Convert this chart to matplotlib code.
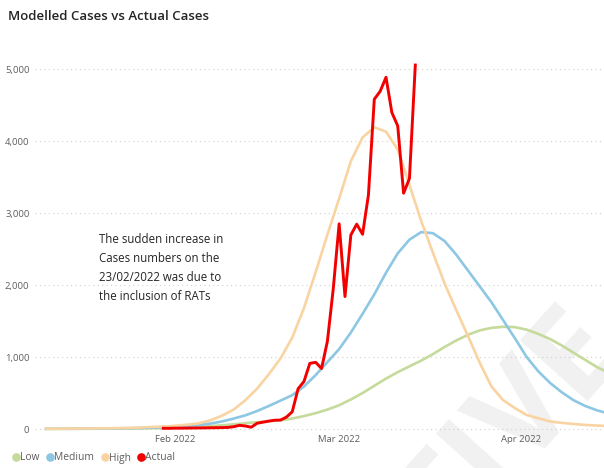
import matplotlib
matplotlib.use("Agg")
import matplotlib.pyplot as plt
from matplotlib.lines import Line2D
import pandas as pd

plt.rcParams['font.family'] = ['Open Sans', 'DejaVu Sans']

# Modelled scenarios, every second day from 10 Jan 2022
model_dates = pd.date_range('2022-01-10', '2022-04-16', freq='2D')
low = [2, 2, 3, 3, 4, 5, 6, 7, 9, 11, 14, 18, 23, 30, 40, 52, 65, 80, 95, 108,
       120, 145, 180, 220, 270, 330, 410, 500, 600, 700, 790, 870, 950, 1040,
       1140, 1230, 1310, 1370, 1405, 1420, 1415, 1380, 1320, 1250, 1160, 1060,
       960, 860, 780]
medium = [3, 4, 4, 5, 6, 7, 9, 11, 14, 18, 23, 30, 40, 55, 75, 105, 145, 190,
          250, 320, 395, 470, 590, 750, 930, 1110, 1340, 1600, 1870, 2170, 2440,
          2630, 2735, 2720, 2610, 2420, 2200, 1980, 1760, 1510, 1260, 1000, 800,
          640, 510, 400, 320, 260, 215]
high = [5, 5, 6, 7, 8, 10, 12, 15, 20, 28, 35, 45, 60, 78, 120, 185, 270, 400,
        560, 760, 980, 1270, 1680, 2180, 2700, 3200, 3720, 4050, 4190, 4130,
        3880, 3390, 2890, 2450, 2020, 1650, 1290, 920, 590, 400, 290, 195, 150,
        105, 85, 70, 57, 48, 42]

# Reported daily cases
actual_dates = pd.date_range('2022-01-30', '2022-03-14', freq='D')
actual = [10, 10, 12, 12, 13, 14, 15, 16, 17, 18, 20, 22,
          32, 51, 42, 25, 80, 95, 110, 122, 125, 165, 240, 560, 660, 912, 926,
          840, 1220, 1950,
          2850, 1840, 2695, 2845, 2705, 3250, 4580, 4690, 4885, 4395, 4210,
          3275, 3480, 5055]

y_ticks = [0, 1000, 2000, 3000, 4000, 5000]
x_ticks = ['2022-02-01', '2022-03-01', '2022-04-01']
x_tick_labels = ['Feb 2022', 'Mar 2022', 'Apr 2022']

series_names = ['Low', 'Medium', 'High', 'Actual']
colors = {'Low': '#C5DA9B', 'Medium': '#8DC7E3', 'High': '#F9D4A2', 'Actual': '#F20000'}

note = ("The sudden increase in\nCases numbers on the\n"
        "23/02/2022 was due to\nthe inclusion of RATs")

W, H = 604, 468
fig = plt.figure(figsize=(W / 100, H / 100), dpi=100)
fig.patch.set_facecolor('white')

# faint watermark behind the chart
fig.text(600 / W, 1 - 325 / H, 'INDICATIVE', fontsize=92, fontweight='bold',
         color='#F1F1F1', rotation=48, rotation_mode='anchor',
         ha='right', va='center', zorder=-1)

left, right = 35, 604
top, bottom = 40.2, 431.9
ax = fig.add_axes([left / W, (H - bottom) / H, (right - left) / W, (bottom - top) / H])
ax.set_zorder(1)
ax.patch.set_alpha(0)

ax.plot(model_dates, low, color=colors['Low'], lw=1.9, solid_joinstyle='round', zorder=2)
ax.plot(model_dates, medium, color=colors['Medium'], lw=1.9, solid_joinstyle='round', zorder=3)
ax.plot(model_dates, high, color=colors['High'], lw=1.9, solid_joinstyle='round', zorder=4)
ax.plot(actual_dates, actual, color=colors['Actual'], lw=2.1, solid_joinstyle='round', zorder=5)

mar1 = pd.Timestamp('2022-03-01')
ax.set_xlim(mar1 - pd.Timedelta(days=51.9), mar1 + pd.Timedelta(days=45.2))
ax.set_ylim(-40, 5400)

ax.set_yticks(y_ticks)
ax.set_yticklabels([f'{v:,}' for v in y_ticks])
ax.set_xticks(pd.to_datetime(x_ticks))
ax.set_xticklabels(x_tick_labels)
ax.tick_params(axis='both', length=0, colors='#605E5C', labelsize=6.8)
ax.tick_params(axis='y', pad=4)
ax.tick_params(axis='x', pad=2)

for v in y_ticks:
    ax.axhline(v, color='#CFCFCF', lw=0.8, ls=(0, (1, 3)), zorder=1)

for s in ax.spines.values():
    s.set_visible(False)

fig.text(8 / W, 1 - 16 / H, 'Modelled Cases vs Actual Cases', fontsize=9.5,
         fontweight='semibold', color='#252423', ha='left', va='center')

fig.text(99 / W, 1 - 268 / H, note, fontsize=8.3, color='#252423', ha='left',
         va='center', linespacing=1.6)

handles = [Line2D([], [], ls='none', marker='o', ms=5.2, color=colors[n]) for n in series_names]
fig.legend(handles, series_names, loc='center left', bbox_to_anchor=(6 / W, 1 - 458 / H),
           ncol=4, frameon=False, fontsize=7.4, handletextpad=-0.2, columnspacing=0.4,
           handlelength=1.2, borderaxespad=0, labelcolor='#605E5C')

fig.savefig('out.png', dpi=100, facecolor='white')
